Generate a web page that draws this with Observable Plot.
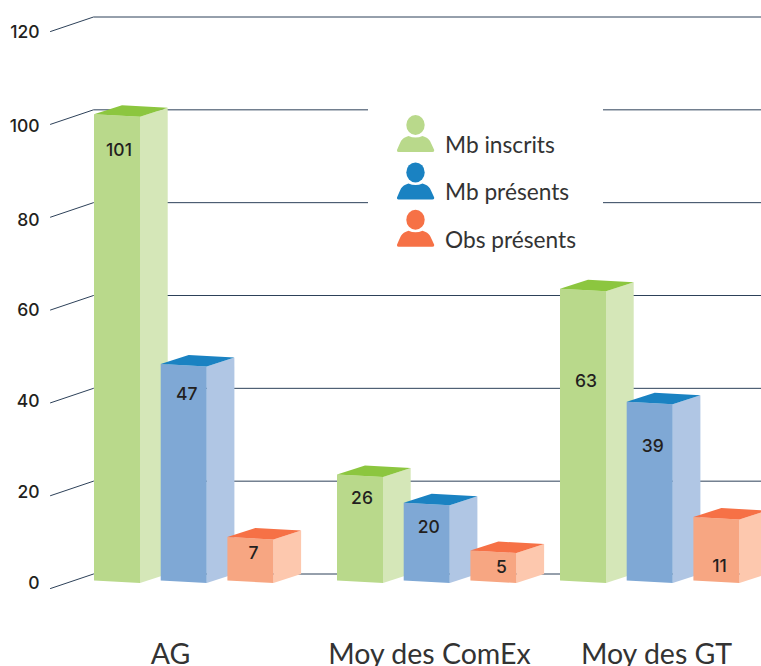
<!DOCTYPE html>
<html><head><meta charset="utf-8">
<script src="https://cdn.jsdelivr.net/npm/d3@7"></script>
<script src="https://cdn.jsdelivr.net/npm/@observablehq/plot@0.6"></script>
<style>html,body{margin:0;padding:0;background:#fff;overflow:hidden}svg{display:block}</style>
</head><body><div id="chart"></div>
<script>
// ---- data
const categories = ["AG", "Moy des ComEx", "Moy des GT"];
const seriesNames = ["Mb inscrits", "Mb présents", "Obs présents"];
const inscrits = [101, 26, 63];
const presents = [47, 20, 39];
const observateurs = [7, 5, 11];
// bar heights as drawn in the picture (on the axis scale)
const drawnInscrits = [101, 23.4, 63.4];
const drawnPresents = [47.2, 17.3, 39.05];
const drawnObservateurs = [9.9, 7, 14.2];
const yTicks = [0, 20, 40, 60, 80, 100, 120];

// ---- layout & style (separate from the data)
const W = 761, H = 666, unit = 4.64;
const groupX = [93.5, 336.5, 559.5], barStep = 66.7, barW = 46, sideW = 27.7;
const categoryX = [170, 429, 656];
const tickLabelPx = [583, 492, 401, 310, 220, 126, 32];
const labelPx = [[150, 498, 381], [394, 527, 446], [553, 567, 566]];
const labelDx = [[2, 2, 3], [3, 2, 3], [3, 8, 3]];
const palettes = [
  {front: "#b9d98b", side: "#d5e7b8", top: "#8cc63f"},
  {front: "#7fa8d5", side: "#b0c6e4", top: "#1a82c2"},
  {front: "#f7a682", side: "#fdc8ae", top: "#f67146"}
];
const iconColors = ["#b9d98b", "#1a82c2", "#f67146"];
const gridColor = "#2d4159";
const u = px => px / unit;
const yOf = px => (573.5 - px) / unit;

const series = [inscrits, presents, observateurs];
const drawn = [drawnInscrits, drawnPresents, drawnObservateurs];

const faces = [], labels = [];
categories.forEach((cat, g) => {
  series.forEach((vals, s) => {
    const h = drawn[s][g], l = groupX[g] + s * barStep, r = l + barW, b = r + sideW, c = palettes[s], id = `${g}-${s}`;
    const push = (face, color, pts) => pts.forEach(([x, y]) => faces.push({id: id + face, color, x, y}));
    push("s", c.side, [[r, h - u(11.5)], [b, h - u(2.5)], [b, 0], [r, -u(9)]]);
    push("f", c.front, [[l, h - u(9)], [r, h - u(11.5)], [r, -u(9)], [l, -u(6.5)]]);
    push("t", c.top, [[l, h - u(9)], [l + 28, h], [b, h - u(2.5)], [r, h - u(11.5)]]);
    labels.push({text: String(vals[g]), x: l + barW / 2 + labelDx[s][g], y: yOf(labelPx[s][g])});
  });
});

const grid = yTicks.flatMap(t => [[50, t - u(14.5)], [93, t], [W, t]].map(([x, y]) => ({t, x, y})));
const tickLabels = yTicks.map((t, i) => ({t, y: yOf(tickLabelPx[i])}));
const legendRows = seriesNames.map((name, i) => ({name, i, x: 444.5, y: yOf(145 + i * 47.5)}));
const catRows = categories.map((name, i) => ({name, x: categoryX[i], y: yOf(654.5)}));

const bodyPath = "M-18.5 25 Q-16 19 -14.5 16 Q-12.5 12.5 -7 11 Q0 14 7 11 Q12.5 12.5 14.5 16 Q16 19 18.7 25 Q19.2 27 17 27 L-17 27 Q-19 27 -18.5 25 Z";
const iconMark = () => {
  const g = d3.create("svg:g");
  iconColors.forEach((col, i) => {
    const t = g.append("g").attr("transform", `translate(415.5,${125 + i * 47.4})`).attr("fill", col);
    t.append("ellipse").attr("cx", 0).attr("cy", 0).attr("rx", 9.2).attr("ry", 10);
    t.append("path").attr("d", bodyPath);
  });
  return g.node();
};

const chart = Plot.plot({
  width: W, height: H,
  marginTop: 0, marginBottom: 0, marginLeft: 0, marginRight: 0,
  x: {domain: [0, W], range: [0, W], axis: null},
  y: {domain: [0, 120], range: [573.5, 16.5], axis: null},
  style: {background: "#fff", fontFamily: "Lato"},
  marks: [
    Plot.line(grid, {x: "x", y: "y", z: "t", stroke: gridColor, strokeWidth: 1}),
    Plot.rect([{}], {x1: 368, x2: 603, y1: 65, y2: 105, fill: "#fff"}),
    Plot.line(faces, {x: "x", y: "y", z: "id", fill: {value: "color", scale: null}, stroke: "none"}),
    Plot.text(labels, {x: "x", y: "y", text: "text", fontSize: 17.5, fontFamily: "Inter", fontWeight: 500, fill: "#231f20", letterSpacing: -0.8}),
    Plot.text(tickLabels, {x: 39, y: "y", text: d => String(d.t), textAnchor: "end", fontSize: 17.5, fontFamily: "Inter", fontWeight: 500, fill: "#231f20", letterSpacing: -0.8}),
    Plot.text(legendRows, {x: "x", y: "y", text: "name", textAnchor: "start", fontSize: 22.7, fontFamily: "Lato", fill: "#333"}),
    Plot.text(catRows, {x: "x", y: "y", text: "name", textAnchor: "middle", fontSize: 28.5, fontFamily: "Lato", fill: "#333"}),
    iconMark
  ]
});
document.getElementById("chart").append(chart);
</script></body></html>
